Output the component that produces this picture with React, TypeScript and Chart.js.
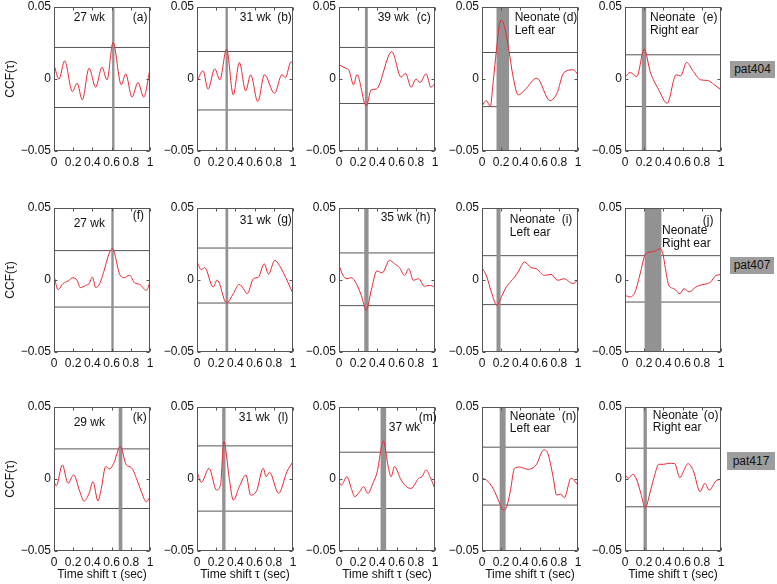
import React, { useEffect, useRef } from "react";
import { Chart, registerables } from "chart.js";

Chart.register(...registerables);

// ---------- data ----------
const xTicks = [0, 0.2, 0.4, 0.6, 0.8, 1];
const yTicks = [-0.05, 0, 0.05];

const tauA = [0, 0.052, 0.111, 0.191, 0.24, 0.295, 0.365, 0.434, 0.5, 0.552, 0.615, 0.701, 0.747, 0.812, 0.875, 0.934, 1];
const ccfA = [0.0099, 0.0, 0.0126, -0.0087, -0.0029, -0.0145, 0.0075, -0.0057, 0.0082, -0.0006, 0.0254, -0.004, 0.0036, -0.0126, -0.0024, -0.0126, 0.0068];

const tauB = [0, 0.063, 0.115, 0.185, 0.238, 0.308, 0.378, 0.441, 0.507, 0.559, 0.633, 0.703, 0.807, 0.885, 0.92, 0.98, 1];
const ccfB = [-0.0017, 0.0057, -0.0071, 0.0071, -0.0006, 0.0208, -0.011, 0.0115, -0.0082, 0.0029, -0.0157, 0.0029, -0.01, 0.003, 0.001, 0.012, 0.011];

const tauC = [0, 0.069, 0.104, 0.152, 0.187, 0.284, 0.336, 0.388, 0.55, 0.647, 0.692, 0.751, 0.803, 0.844, 0.907, 0.958, 1];
const ccfC = [0.0099, 0.0075, 0.006, -0.004, 0.003, -0.0187, -0.0075, -0.007, 0.019, 0.0013, 0.004, -0.0057, 0.0, -0.0024, 0.0036, -0.0057, -0.003];

const tauD = [0, 0.045, 0.087, 0.115, 0.15, 0.177, 0.2, 0.235, 0.28, 0.32, 0.377, 0.447, 0.57, 0.708, 0.778, 0.854, 0.952, 1];
const ccfD = [-0.0187, -0.015, -0.019, -0.003, 0.02, 0.036, 0.041, 0.036, 0.02, 0.003, -0.011, -0.0075, 0.0006, -0.015, -0.0103, 0.0045, 0.0064, 0.003];

const tauE = [0, 0.053, 0.123, 0.2, 0.263, 0.351, 0.439, 0.533, 0.579, 0.642, 0.712, 0.789, 0.86, 0.93, 1];
const ccfE = [0.0013, 0.0045, 0.0017, 0.0208, 0.005, -0.0075, -0.0168, 0.0029, 0.0022, 0.0115, 0.0052, -0.0006, -0.001, -0.004, -0.0075];

const tauF = [0, 0.042, 0.094, 0.146, 0.198, 0.24, 0.274, 0.33, 0.365, 0.4, 0.434, 0.476, 0.503, 0.608, 0.684, 0.726, 0.788, 0.84, 0.892, 0.962, 1];
const ccfF = [0.003, -0.0067, -0.0025, -0.0007, 0.0016, -0.0002, -0.0053, -0.0037, -0.0025, 0.002, -0.0053, -0.0025, 0.0025, 0.0218, 0.0039, 0.0016, 0.0032, -0.0021, -0.003, -0.0072, -0.0014];

const tauG = [0, 0.045, 0.08, 0.168, 0.21, 0.308, 0.378, 0.44, 0.483, 0.524, 0.587, 0.64, 0.7, 0.745, 0.81, 0.86, 0.9, 0.95, 1];
const ccfG = [0.0125, 0.0072, 0.0086, -0.0049, 0.0, -0.016, -0.0095, -0.003, -0.006, -0.0095, 0.0009, 0.002, 0.0113, 0.004, 0.0137, 0.01, 0.005, -0.002, -0.0095];

const tauH = [0, 0.042, 0.083, 0.128, 0.18, 0.232, 0.284, 0.336, 0.394, 0.45, 0.526, 0.578, 0.63, 0.682, 0.727, 0.775, 0.83, 0.889, 0.941, 1];
const ccfH = [0.0102, 0.0032, 0.0009, 0.0016, -0.0025, -0.0106, -0.021, -0.0072, 0.0063, 0.0049, 0.0137, 0.0113, 0.0086, 0.0032, 0.0079, -0.0002, 0.0009, -0.0044, -0.0037, -0.0049];

const tauI = [0, 0.045, 0.097, 0.155, 0.21, 0.253, 0.339, 0.376, 0.443, 0.512, 0.564, 0.651, 0.72, 0.789, 0.858, 0.945, 1];
const ccfI = [0.0083, 0.0032, -0.0083, -0.0176, -0.0106, -0.0049, 0.002, 0.0056, 0.0125, 0.0086, 0.0079, 0.0032, 0.0039, -0.0002, 0.0009, -0.0025, 0.0];

const tauJ = [0, 0.053, 0.105, 0.158, 0.211, 0.263, 0.316, 0.361, 0.393, 0.421, 0.456, 0.509, 0.572, 0.614, 0.667, 0.737, 0.789, 0.86, 0.895, 0.947, 1];
const ccfJ = [-0.0106, -0.0118, -0.0083, 0.0044, 0.0178, 0.0194, 0.0201, 0.0218, 0.0188, 0.0079, -0.0037, -0.006, -0.0095, -0.006, -0.0083, -0.0049, -0.0035, -0.0025, -0.0012, 0.0032, 0.0037];

const tauK = [0, 0.024, 0.087, 0.146, 0.205, 0.267, 0.313, 0.365, 0.406, 0.458, 0.493, 0.538, 0.58, 0.622, 0.691, 0.753, 0.806, 0.865, 0.91, 0.962, 1];
const ccfK = [-0.0019, -0.0047, 0.0098, -0.003, 0.0028, -0.0084, -0.0153, -0.01, -0.0019, -0.0153, -0.0065, 0.0086, 0.007, 0.0109, 0.0226, 0.0098, 0.0079, -0.0007, -0.0088, -0.0158, -0.0123];

const tauL = [0, 0.045, 0.126, 0.203, 0.245, 0.28, 0.336, 0.378, 0.441, 0.51, 0.559, 0.622, 0.69, 0.72, 0.755, 0.85, 0.937, 1];
const ccfL = [0.0051, -0.0023, 0.0074, -0.0077, -0.004, 0.026, 0.0005, -0.0147, -0.0053, 0.0028, -0.0112, -0.008, 0.0075, 0.0016, 0.0047, -0.01, 0.0051, 0.0121];

const tauM = [0, 0.024, 0.083, 0.128, 0.163, 0.215, 0.256, 0.301, 0.353, 0.394, 0.464, 0.509, 0.543, 0.578, 0.647, 0.716, 0.751, 0.83, 0.865, 0.907, 0.948, 1];
const ccfM = [-0.0019, -0.0042, 0.0016, -0.0065, -0.0123, -0.0088, -0.0053, -0.01, -0.003, 0.004, 0.0265, 0.0098, 0.0016, 0.0086, -0.0007, -0.006, -0.0065, 0.0005, 0.0016, 0.0063, 0.0016, -0.007];

const tauN = [0, 0.045, 0.115, 0.177, 0.219, 0.253, 0.294, 0.339, 0.391, 0.477, 0.564, 0.643, 0.685, 0.737, 0.778, 0.82, 0.858, 0.927, 1];
const ccfN = [0.0005, -0.0007, -0.0065, -0.0158, -0.0216, -0.02, -0.0088, 0.0074, 0.0083, 0.0067, 0.0098, 0.0202, 0.0179, 0.0028, -0.0112, -0.0105, -0.013, 0.0005, -0.0042];

const tauO = [0, 0.035, 0.081, 0.123, 0.165, 0.211, 0.263, 0.305, 0.351, 0.404, 0.456, 0.516, 0.572, 0.607, 0.656, 0.712, 0.782, 0.832, 0.877, 0.947, 1];
const ccfO = [0.0028, 0.0005, 0.0033, -0.0007, -0.01, -0.02, -0.0088, 0.0016, 0.0102, 0.0102, 0.0109, 0.0107, 0.0009, 0.005, 0.0107, 0.0056, -0.0088, -0.003, -0.0077, -0.0014, 0.0];

// significance thresholds [upper, lower]
const thrA = [0.0219, -0.0198];
const thrB = [0.0191, -0.0215];
const thrC = [0.0219, -0.017];
const thrD = [0.0184, -0.0192];
const thrE = [0.0168, -0.0191];
const thrF = [0.0204, -0.0188];
const thrG = [0.0222, -0.016];
const thrH = [0.0188, -0.0178];
const thrI = [0.0169, -0.0171];
const thrJ = [0.0169, -0.0153];
const thrK = [0.0209, -0.0205];
const thrL = [0.023, -0.0223];
const thrM = [0.0186, -0.0205];
const thrN = [0.0221, -0.0181];
const thrO = [0.0214, -0.0193];

// shaded delay bands [start, end] (sec)
const bandA = [0.605, 0.63];
const bandB = [0.297, 0.322];
const bandC = [0.27, 0.3];
const bandD = [0.151, 0.282];
const bandE = [0.175, 0.221];
const bandF = [0.597, 0.622];
const bandG = [0.297, 0.325];
const bandH = [0.263, 0.308];
const bandI = [0.151, 0.193];
const bandJ = [0.204, 0.379];
const bandK = [0.674, 0.712];
const bandL = [0.262, 0.297];
const bandM = [0.433, 0.491];
const bandN = [0.184, 0.246];
const bandO = [0.193, 0.228];

const patients = ["pat404", "pat407", "pat417"];

// ---------- layout / style ----------
const COL_LEFT = [54, 197, 339, 482, 625];
const ROW_TOP = [7, 208, 407];
const PW = 96;
const PH = 144;
const PAD_L = 54;
const PAD_T = 10;
const PAD_R = 8;
const XAX_H = 34;
const CW = PAD_L + PW + PAD_R;
const CH = PAD_T + PH + XAX_H;
const FONT = "'Liberation Sans', Arial, Helvetica, sans-serif";
const RED = "rgb(232,40,52)";
const AXIS = "#555555";
const BAND = "#929292";

type Note = [string, number, number]; // text, fraction from left, fraction from top

interface PanelDef {
  tau: number[];
  ccf: number[];
  thr: number[];
  band: number[];
  notes: Note[];
}

const panels: PanelDef[][] = [
  [
    { tau: tauA, ccf: ccfA, thr: thrA, band: bandA, notes: [["27 wk", 0.205, 0.074], ["(a)", 0.82, 0.074]] },
    { tau: tauB, ccf: ccfB, thr: thrB, band: bandB, notes: [["31 wk", 0.445, 0.074], ["(b)", 0.835, 0.074]] },
    { tau: tauC, ccf: ccfC, thr: thrC, band: bandC, notes: [["39 wk", 0.403, 0.074], ["(c)", 0.81, 0.074]] },
    { tau: tauD, ccf: ccfD, thr: thrD, band: bandD, notes: [["Neonate", 0.34, 0.074], ["(d)", 0.84, 0.074], ["Left ear", 0.34, 0.165]] },
    { tau: tauE, ccf: ccfE, thr: thrE, band: bandE, notes: [["Neonate", 0.26, 0.074], ["(e)", 0.81, 0.074], ["Right ear", 0.26, 0.165]] },
  ],
  [
    { tau: tauF, ccf: ccfF, thr: thrF, band: bandF, notes: [["27 wk", 0.205, 0.106], ["(f)", 0.82, 0.05]] },
    { tau: tauG, ccf: ccfG, thr: thrG, band: bandG, notes: [["31 wk", 0.445, 0.085], ["(g)", 0.835, 0.08]] },
    { tau: tauH, ccf: ccfH, thr: thrH, band: bandH, notes: [["35 wk", 0.434, 0.065], ["(h)", 0.8, 0.065]] },
    { tau: tauI, ccf: ccfI, thr: thrI, band: bandI, notes: [["Neonate", 0.29, 0.078], ["(i)", 0.83, 0.078], ["Left ear", 0.29, 0.169]] },
    { tau: tauJ, ccf: ccfJ, thr: thrJ, band: bandJ, notes: [["(j)", 0.81, 0.087], ["Neonate", 0.385, 0.155], ["Right ear", 0.385, 0.245]] },
  ],
  [
    { tau: tauK, ccf: ccfK, thr: thrK, band: bandK, notes: [["29 wk", 0.205, 0.109], ["(k)", 0.82, 0.074]] },
    { tau: tauL, ccf: ccfL, thr: thrL, band: bandL, notes: [["31 wk", 0.435, 0.074], ["(l)", 0.84, 0.074]] },
    { tau: tauM, ccf: ccfM, thr: thrM, band: bandM, notes: [["37 wk", 0.518, 0.143], ["(m)", 0.83, 0.074]] },
    { tau: tauN, ccf: ccfN, thr: thrN, band: bandN, notes: [["Neonate", 0.29, 0.067], ["(n)", 0.83, 0.067], ["Left ear", 0.29, 0.15]] },
    { tau: tauO, ccf: ccfO, thr: thrO, band: bandO, notes: [["Neonate", 0.29, 0.06], ["(o)", 0.82, 0.06], ["Right ear", 0.29, 0.145]] },
  ],
];

const PAT_BOX = [
  { left: 730, top: 61, width: 45, height: 17 },
  { left: 730, top: 257, width: 44, height: 17 },
  { left: 727, top: 452, width: 48, height: 18 },
];

function fmtTick(v: number): string {
  if (Math.abs(v) < 1e-9) return "0";
  if (Math.abs(v - 1) < 1e-9) return "1";
  const s = Math.abs(v) < 0.1 ? Math.abs(v).toFixed(2) : Math.abs(v).toFixed(1);
  return (v < 0 ? "\u2212" : "") + s;
}

function Panel({ def, row, col }: { def: PanelDef; row: number; col: number }) {
  const ref = useRef<HTMLCanvasElement | null>(null);
  useEffect(() => {
    if (!ref.current) return;
    const fixScale = (w: number | null, h: number | null) => (s: any) => {
      if (w !== null) s.width = w;
      if (h !== null) s.height = h;
      s.paddingLeft = 0;
      s.paddingRight = 0;
      s.paddingTop = 0;
      s.paddingBottom = 0;
    };
    const panelPlugin = {
      id: "panelDeco",
      beforeDatasetDraw(chart: any, args: any) {
        if (args.index !== 0) return;
        const { ctx, chartArea } = chart;
        const xs = chart.scales.x;
        const x0 = xs.getPixelForValue(def.band[0]);
        const x1 = xs.getPixelForValue(def.band[1]);
        ctx.save();
        ctx.beginPath();
        ctx.rect(chartArea.left, chartArea.top, chartArea.right - chartArea.left, chartArea.bottom - chartArea.top);
        ctx.clip();
        ctx.fillStyle = BAND;
        ctx.fillRect(x0, chartArea.top, x1 - x0, chartArea.bottom - chartArea.top);
        ctx.restore();
      },
      afterDatasetsDraw(chart: any) {
        const { ctx, chartArea } = chart;
        const xs = chart.scales.x;
        const ys = chart.scales.y;
        const l = Math.round(chartArea.left) + 0.5;
        const r = Math.round(chartArea.right) - 0.5;
        const t = Math.round(chartArea.top) + 0.5;
        const b = Math.round(chartArea.bottom) - 0.5;
        ctx.save();
        ctx.strokeStyle = AXIS;
        ctx.lineWidth = 1;
        ctx.strokeRect(l, t, r - l, b - t);
        ctx.beginPath();
        xTicks.forEach((v) => {
          const px = Math.round(xs.getPixelForValue(v)) + 0.5;
          ctx.moveTo(px, b);
          ctx.lineTo(px, b - 3);
          ctx.moveTo(px, t);
          ctx.lineTo(px, t + 3);
        });
        yTicks.forEach((v) => {
          const py = Math.round(ys.getPixelForValue(v)) + 0.5;
          ctx.moveTo(l, py);
          ctx.lineTo(l + 3, py);
          ctx.moveTo(r, py);
          ctx.lineTo(r - 3, py);
        });
        ctx.stroke();
        ctx.fillStyle = "#111";
        ctx.font = `12px ${FONT}`;
        ctx.textAlign = "left";
        ctx.textBaseline = "middle";
        const w = chartArea.right - chartArea.left;
        const h = chartArea.bottom - chartArea.top;
        def.notes.forEach(([txt, fx, fy]) => {
          ctx.fillText(txt, chartArea.left + fx * w, chartArea.top + fy * h);
        });
        ctx.restore();
      },
    };
    const tickFont = { family: FONT, size: 12 };
    const chart = new Chart(ref.current, {
      type: "line",
      data: {
        datasets: [
          {
            data: def.tau.map((t, i) => ({ x: t, y: def.ccf[i] })),
            borderColor: RED,
            borderWidth: 1,
            pointRadius: 0,
            cubicInterpolationMode: "monotone",
            fill: false,
          },
          {
            data: [{ x: 0, y: def.thr[0] }, { x: 1, y: def.thr[0] }],
            borderColor: AXIS,
            borderWidth: 1,
            pointRadius: 0,
            fill: false,
          },
          {
            data: [{ x: 0, y: def.thr[1] }, { x: 1, y: def.thr[1] }],
            borderColor: AXIS,
            borderWidth: 1,
            pointRadius: 0,
            fill: false,
          },
        ],
      },
      options: {
        responsive: false,
        animation: false,
        devicePixelRatio: 1,
        events: [],
        layout: { padding: { left: 0, top: PAD_T, right: PAD_R, bottom: 0 } },
        plugins: { legend: { display: false }, tooltip: { enabled: false } },
        scales: {
          x: {
            type: "linear",
            min: 0,
            max: 1,
            grid: { display: false, drawTicks: false },
            border: { display: false },
            afterBuildTicks: (s: any) => {
              s.ticks = xTicks.map((v) => ({ value: v }));
            },
            ticks: {
              autoSkip: false,
              maxRotation: 0,
              padding: 4,
              color: "#111",
              font: tickFont,
              callback: (v: any) => fmtTick(Number(v)),
            },
            title: {
              display: row === 2,
              text: "Time shift \u03c4 (sec)",
              color: "#111",
              font: tickFont,
              padding: { top: 0, bottom: 3 },
            },
            afterFit: fixScale(null, XAX_H),
          },
          y: {
            type: "linear",
            min: -0.05,
            max: 0.05,
            grid: { display: false, drawTicks: false },
            border: { display: false },
            afterBuildTicks: (s: any) => {
              s.ticks = yTicks.map((v) => ({ value: v }));
            },
            ticks: {
              autoSkip: false,
              padding: 3,
              color: "#111",
              font: tickFont,
              callback: (v: any) => fmtTick(Number(v)),
            },
            title: {
              display: col === 0,
              text: "CCF(\u03c4)",
              color: "#111",
              font: tickFont,
              padding: { top: 3, bottom: 0 },
            },
            afterFit: fixScale(PAD_L, null),
          },
        },
      },
      plugins: [panelPlugin],
    } as any);
    return () => chart.destroy();
  }, [def, row, col]);

  return (
    <canvas
      ref={ref}
      width={CW}
      height={CH}
      style={{
        position: "absolute",
        left: COL_LEFT[col] - PAD_L,
        top: ROW_TOP[row] - PAD_T,
        width: CW,
        height: CH,
      }}
    />
  );
}

export default function App() {
  return (
    <div
      style={{
        position: "absolute",
        left: 0,
        top: 0,
        width: 777,
        height: 584,
        background: "#fff",
        overflow: "hidden",
      }}
    >
      {panels.map((rowDefs, r) =>
        rowDefs.map((d, c) => <Panel key={`${r}-${c}`} def={d} row={r} col={c} />)
      )}
      {patients.map((p, i) => (
        <div
          key={p}
          style={{
            position: "absolute",
            left: PAT_BOX[i].left,
            top: PAT_BOX[i].top,
            width: PAT_BOX[i].width,
            height: PAT_BOX[i].height,
            background: "#9d9d9d",
            color: "#111",
            font: `12px ${FONT}`,
            lineHeight: `${PAT_BOX[i].height}px`,
            textAlign: "center",
          }}
        >
          {p}
        </div>
      ))}
    </div>
  );
}
